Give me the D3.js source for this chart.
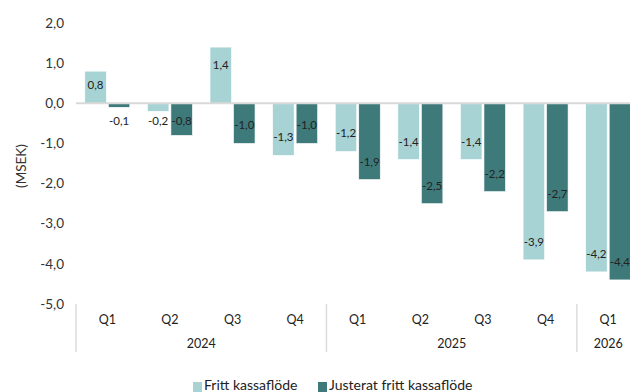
<!DOCTYPE html>
<html><head><meta charset="utf-8">
<script src="https://cdn.jsdelivr.net/npm/d3@7"></script>
<style>body{margin:0;background:#fff}svg{display:block;font-family:Lato,"Noto Sans",sans-serif}</style>
</head><body><svg width="630" height="392"></svg>
<script>
const quarters = ["Q1","Q2","Q3","Q4","Q1","Q2","Q3","Q4","Q1"];
const years = ["2024","2024","2024","2024","2025","2025","2025","2025","2026"];
const fritt = [0.8,-0.2,1.4,-1.3,-1.2,-1.4,-1.4,-3.9,-4.2];
const justerat = [-0.1,-0.8,-1.0,-1.0,-1.9,-2.5,-2.2,-2.7,-4.4];
const yTicks = [2,1,0,-1,-2,-3,-4,-5];
const seriesNames = ["Fritt kassaflöde","Justerat fritt kassaflöde"];
const colors = ["#a8d3d4","#3f7a7a"];

const svg = d3.select("svg");
const idx = d3.range(quarters.length);
const x = d3.scaleBand().domain(idx).range([76, 639.5]).paddingInner(0).paddingOuter(0);
const y = d3.scaleLinear().domain([-5,2]).range([304,23]);
const fmt = v => d3.format(".1f")(v).replace(".", ",").replace("−","-");

// y tick labels
svg.append("g").selectAll("text").data(yTicks).join("text")
  .attr("x", 64).attr("y", d => y(d)).attr("dy","0.35em")
  .attr("text-anchor","end").attr("font-size",13.5).attr("fill","#333")
  .text(fmt);
svg.append("text").attr("transform","translate(21,166) rotate(-90)")
  .attr("dy","0.35em")
  .attr("text-anchor","middle").attr("font-size",13.5).attr("fill","#333").text("(MSEK)");

const series = [fritt, justerat];
const bw = 21.5, gap = 2;
const xs = (i, s) => x(i) + x.bandwidth()/2 + (s === 0 ? -gap/2 - bw : gap/2);

series.forEach((vals, s) => {
  const g = svg.append("g");
  g.selectAll("rect").data(idx).join("rect")
    .attr("x", i => xs(i, s)).attr("width", bw)
    .attr("y", i => y(Math.max(0, vals[i])))
    .attr("height", i => Math.abs(y(vals[i]) - y(0)))
    .attr("fill", colors[s]).attr("stroke","#fff").attr("stroke-width",0.6);
  g.selectAll("text").data(idx).join("text")
    .attr("x", i => xs(i, s) + bw/2)
    .attr("y", i => vals[i] >= 0 ? Math.min(y(vals[i]) + 18, y(0) - 18) : Math.max(y(vals[i]) - 18, y(0) + 18))
    .attr("dy","0.35em").attr("text-anchor","middle").attr("font-size",11.5).attr("fill","#222")
    .text(i => fmt(vals[i]));
});

// zero line
svg.append("line").attr("x1",76).attr("x2",630).attr("y1",y(0)).attr("y2",y(0))
  .attr("stroke","#d9d9d9").attr("stroke-width",2);

// x-axis category labels
svg.append("g").selectAll("text").data(idx).join("text")
  .attr("x", i => x(i) + x.bandwidth()/2).attr("y", 320).attr("dy","0.35em")
  .attr("text-anchor","middle").attr("font-size",12.5).attr("fill","#222").text(i => quarters[i]);

// year groups
const groups = d3.groups(idx, i => years[i]);
groups.forEach(([yr, is]) => {
  const x0 = x(is[0]), x1 = x(is[is.length-1]) + x.bandwidth();
  svg.append("line").attr("x1",x0).attr("x2",x0).attr("y1",304).attr("y2",352)
    .attr("stroke","#dcdcdc").attr("stroke-width",1.5);
  svg.append("text").attr("x",(x0+x1)/2).attr("y",344).attr("dy","0.35em")
    .attr("text-anchor","middle").attr("font-size",12.5).attr("fill","#222").text(yr);
});

// legend
const lg = svg.append("g");
const lx = [193, 318];
seriesNames.forEach((n, s) => {
  lg.append("rect").attr("x", lx[s]).attr("y", 382).attr("width", 9).attr("height", 10).attr("fill", colors[s]);
  lg.append("text").attr("x", lx[s] + 11).attr("y", 390).attr("font-size", 14).attr("fill","#222").text(n);
});
</script></body></html>
